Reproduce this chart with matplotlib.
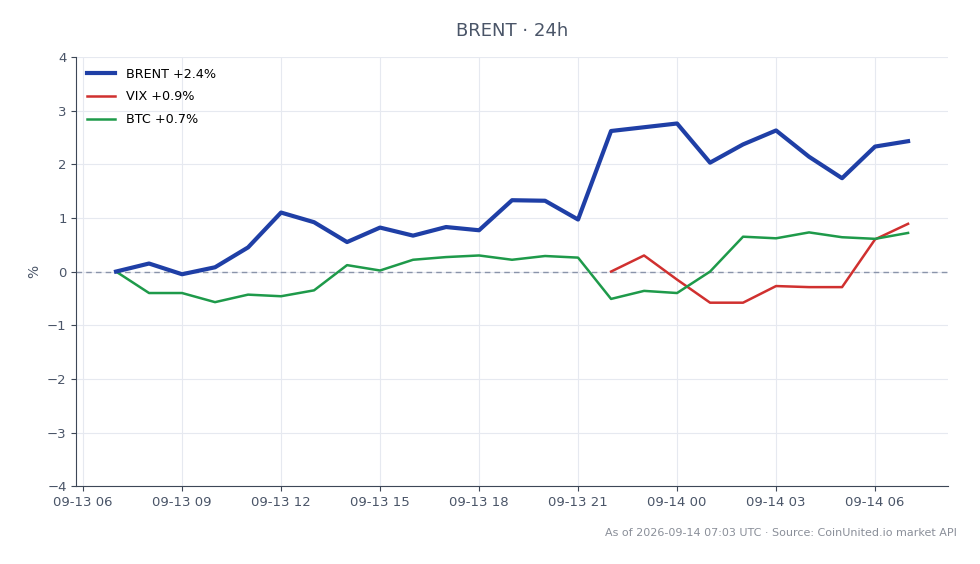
import matplotlib
matplotlib.use('Agg')
import matplotlib.pyplot as plt
import matplotlib.dates as mdates
import pandas as pd

# hourly % change since 09-13 07:00 UTC
times = pd.date_range('2026-09-13 07:00', '2026-09-14 07:00', freq='h')

brent = [0.00, 0.15, -0.05, 0.08, 0.45, 1.10, 0.92, 0.55, 0.82, 0.67,
         0.83, 0.77, 1.33, 1.32, 0.97, 2.62, 2.69, 2.76, 2.03, 2.37,
         2.63, 2.14, 1.74, 2.33, 2.43]
btc = [0.00, -0.40, -0.40, -0.57, -0.43, -0.46, -0.35, 0.12, 0.02, 0.22,
       0.27, 0.30, 0.22, 0.29, 0.26, -0.51, -0.36, -0.40, 0.00, 0.65,
       0.62, 0.73, 0.64, 0.61, 0.72]
# VIX only has data from 09-13 22:00
vix_times = times[15:]
vix = [0.00, 0.30, -0.15, -0.58, -0.58, -0.27, -0.29, -0.29, 0.60, 0.89]

fig, ax = plt.subplots(figsize=(9.8, 5.64), dpi=100)
fig.subplots_adjust(left=0.078, right=0.967, top=0.899, bottom=0.138)

ax.axhline(0, color='#8a94aa', lw=1, ls='--', dashes=(4, 3), zorder=1)
ax.plot(times, brent, color='#1f3fa6', lw=3, label='BRENT +2.4%', zorder=4)
ax.plot(vix_times, vix, color='#d0302f', lw=1.8, label='VIX +0.9%', zorder=3)
ax.plot(times, btc, color='#1e9a4a', lw=1.8, label='BTC +0.7%', zorder=3)

ax.set_ylim(-4, 4)
ax.set_ylabel('%', color='#4a5568')
ax.xaxis.set_major_locator(mdates.HourLocator(byhour=range(0, 24, 3)))
ax.xaxis.set_major_formatter(mdates.DateFormatter('%m-%d %H'))
ax.grid(True, color='#e6e9f0', lw=0.8)
ax.set_axisbelow(True)

for side in ('top', 'right'):
    ax.spines[side].set_visible(False)
for side in ('left', 'bottom'):
    ax.spines[side].set_color('#3d4757')
ax.tick_params(colors='#3d4757', labelcolor='#4a5568', labelsize=9.5)

ax.set_title('BRENT · 24h', color='#4a5568', fontsize=13, pad=15)
ax.legend(loc='upper left', frameon=False, fontsize=9.2, handlelength=2.2,
          labelspacing=0.75, borderaxespad=0.45)

fig.text(0.976, 0.046, 'As of 2026-09-14 07:03 UTC · Source: CoinUnited.io market API',
         ha='right', va='bottom', fontsize=8, color='#8a8f99')

fig.savefig('out.png')
